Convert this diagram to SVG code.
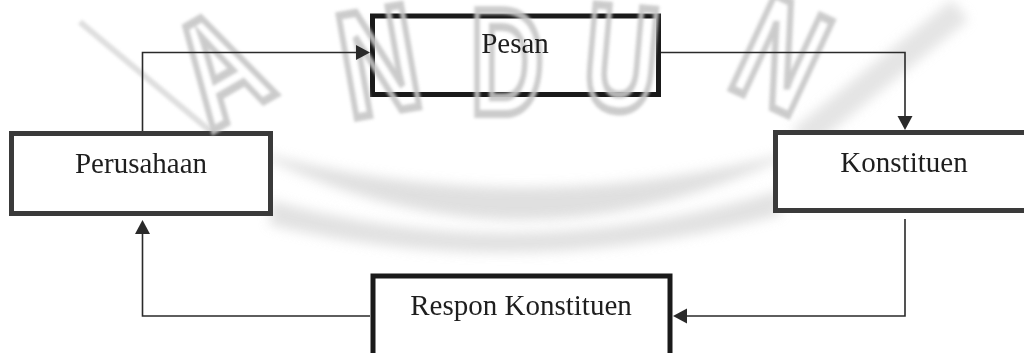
<svg xmlns="http://www.w3.org/2000/svg" width="1024" height="353" viewBox="0 0 1024 353">
  <style>
    .box { fill: #ffffff; stroke: #1a1a1a; stroke-width: 5; }
    .box-soft { fill: #ffffff; stroke: #3a3a3a; stroke-width: 5; }
    .label { font-family: "Liberation Serif", "Times New Roman", serif; font-size: 29px; fill: #1e1e1e; text-anchor: middle; }
    .wire { fill: none; stroke: #2a2a2a; stroke-width: 1.6; }
    .head { fill: #2a2a2a; }
    .mark { font-family: "Liberation Sans", Arial, sans-serif; font-weight: bold; font-size: 150px; fill: none; stroke: #c6c6c6; stroke-width: 8; text-anchor: middle; }
  </style>
  <defs>
    <filter id="soft" x="-20%" y="-20%" width="140%" height="140%">
      <feGaussianBlur stdDeviation="1.8"/>
    </filter>
    <filter id="softer" x="-20%" y="-50%" width="140%" height="200%">
      <feGaussianBlur stdDeviation="6"/>
    </filter>
  </defs>

  <rect width="1024" height="353" fill="#ffffff"/>

  <!-- faint grey background swash -->
  <g id="backdrop" opacity="0.65">
    <path d="M250 150 Q520 290 800 150 Q520 225 250 150 Z" fill="#cfcfcf" filter="url(#softer)"/>
    <path d="M270 200 Q520 270 780 190 L780 215 Q520 285 270 225 Z" fill="#d2d2d2" filter="url(#softer)"/>
    <path d="M800 140 L960 10" stroke="#d6d6d6" stroke-width="26" filter="url(#softer)"/>
    <path d="M80 22 L215 135" stroke="#cdcdcd" stroke-width="6" filter="url(#soft)"/>
  </g>

  <g id="pesan-frame">
    <rect class="box" x="372.5" y="16" width="286" height="78.5"/>
  </g>
  <g id="perusahaan-frame">
    <rect class="box-soft" x="11.5" y="133.5" width="259" height="80"/>
  </g>
  <g id="konstituen-frame">
    <rect class="box-soft" x="775.5" y="132.5" width="260" height="78"/>
  </g>
  <g id="respon-frame">
    <rect class="box" x="373" y="276" width="297" height="90"/>
  </g>

  <!-- hollow lettering across the top -->
  <g id="watermark" filter="url(#soft)" opacity="0.9">
    <text class="mark" transform="translate(245,112) rotate(-30) scale(0.72,1)">A</text>
    <text class="mark" transform="translate(388,112) rotate(-10) scale(0.72,1)">N</text>
    <text class="mark" transform="translate(507,114) scale(0.68,1)">D</text>
    <text class="mark" transform="translate(617,110) rotate(5) scale(0.68,1)">U</text>
    <text class="mark" transform="translate(760,102) rotate(25) scale(0.72,1)">N</text>
  </g>

  <!-- connectors -->
  <g id="connectors">
    <path class="wire" d="M142.5 131 V52.5 H357"/>
    <polygon class="head" points="356,45 370,52.5 356,60"/>

    <path class="wire" d="M661 52.5 H905 V117"/>
    <polygon class="head" points="897.5,116 905,130 912.5,116"/>

    <path class="wire" d="M905 219 V316 H686"/>
    <polygon class="head" points="687,308.5 673,316 687,323.5"/>

    <path class="wire" d="M370 316 H142.5 V233"/>
    <polygon class="head" points="135,234 142.5,220 150,234"/>
  </g>

  <g id="pesan">
    <text class="label" x="515" y="53">Pesan</text>
  </g>
  <g id="perusahaan">
    <text class="label" x="141" y="173">Perusahaan</text>
  </g>
  <g id="konstituen">
    <text class="label" x="904" y="172">Konstituen</text>
  </g>
  <g id="respon-konstituen">
    <text class="label" x="521" y="315">Respon Konstituen</text>
  </g>
</svg>
